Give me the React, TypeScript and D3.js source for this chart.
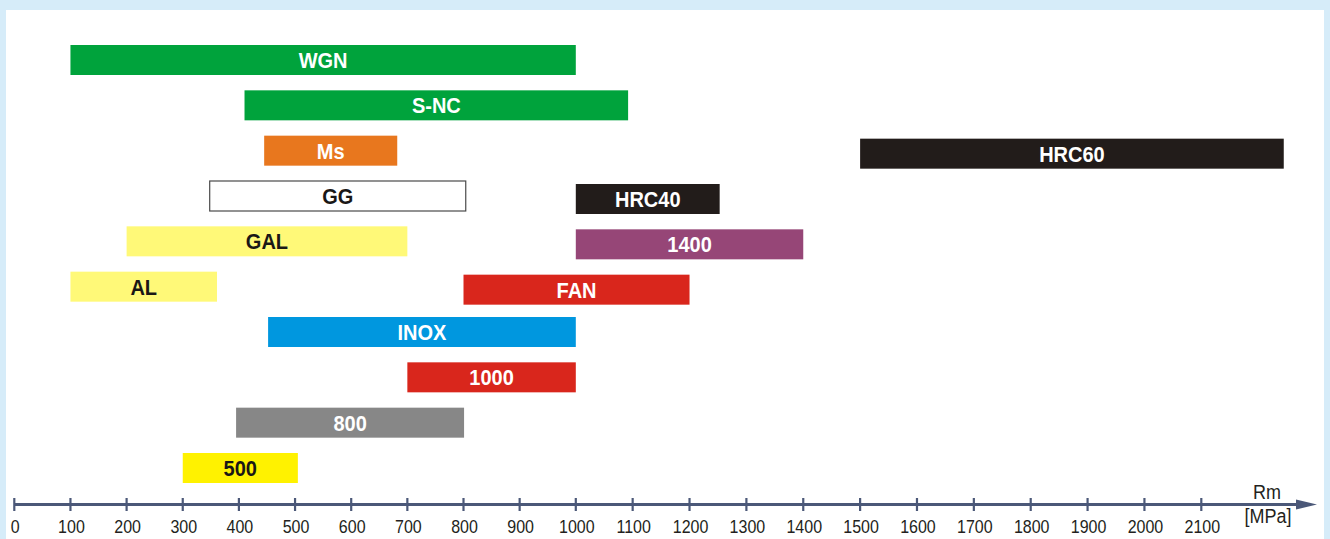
import * as d3 from 'd3';
import { useEffect, useRef } from 'react';

// Rm ranges [MPa] per material
const names = ['WGN', 'S-NC', 'Ms', 'GG', 'GAL', 'AL', 'INOX', '1000', '800', '500', 'HRC60', 'HRC40', '1400', 'FAN'];
const rmFrom = [100, 410, 445, 348, 200, 100, 452, 700, 395, 300, 1500, 1000, 1000, 800];
const rmTo = [1000, 1092, 682, 804, 700, 361, 1000, 1000, 801, 505, 2245, 1253, 1400, 1200];
const rows = [0, 1, 2, 3, 4, 5, 6, 7, 8, 9, 2, 3, 4, 5];
const ticks = d3.range(0, 2200, 100);

const fills: Record<string, string> = {
  WGN: '#00a33c', 'S-NC': '#00a33c', Ms: '#e8771e', GG: '#ffffff', GAL: '#fff978',
  AL: '#fff978', INOX: '#0097df', '1000': '#d9261c', '800': '#878787', '500': '#fff200',
  HRC60: '#221c1a', HRC40: '#221c1a', '1400': '#964677', FAN: '#d9261c',
};
const darkText = new Set(['GG', 'GAL', 'AL', '500']);

export default function App() {
  const ref = useRef<SVGSVGElement | null>(null);

  useEffect(() => {
    if (!ref.current) return;
    const svg = d3.select(ref.current);
    svg.selectAll('*').remove();

    const W = 1330;
    const H = 539;
    const axisY = 504.5;
    const font = 'Arial, "Liberation Sans", sans-serif';
    const stretch = 1.13; // the source text is a bit taller than plain Arial

    // frame
    svg.append('rect').attr('width', W).attr('height', H).attr('fill', '#d6ecf9');
    svg.append('rect').attr('x', 6).attr('y', 10).attr('width', W - 12).attr('height', H - 10).attr('fill', '#fff');

    // the printed axis is slightly wider on the right side
    const x = d3.scaleLinear().domain([0, 1000, 2100]).range([14.3, 575.8, 1201.3]);
    const y = d3.scaleLinear().domain([0, 9]).range([45, 453]);
    const barH = 30;

    const data = names.map((n, i) => ({ name: n, from: rmFrom[i], to: rmTo[i], row: rows[i], idx: i }));
    // second bar on a row sits a few px lower
    const rowOffset = (d: { row: number; idx: number }) =>
      rows.indexOf(d.row) < d.idx ? 3 : 0;

    const g = svg.append('g');
    g.selectAll('rect.bar')
      .data(data)
      .join('rect')
      .attr('class', 'bar')
      .attr('x', (d) => x(d.from))
      .attr('y', (d) => y(d.row) + rowOffset(d))
      .attr('width', (d) => x(d.to) - x(d.from))
      .attr('height', barH)
      .attr('fill', (d) => fills[d.name])
      .attr('stroke', (d) => (d.name === 'GG' ? '#4a4a4a' : 'none'))
      .attr('stroke-width', 1.2);

    g.selectAll('text.lbl')
      .data(data)
      .join('text')
      .attr('class', 'lbl')
      .attr('transform', (d) =>
        `translate(${(x(d.from) + x(d.to)) / 2},${y(d.row) + rowOffset(d) + barH / 2 + 8}) scale(1,${stretch})`)
      .attr('text-anchor', 'middle')
      .attr('font-family', font)
      .attr('font-weight', 'bold')
      .attr('font-size', 20)
      .attr('fill', (d) => (darkText.has(d.name) ? '#1a1716' : '#ffffff'))
      .text((d) => d.name);

    // axis
    const axisColor = '#4b5878';
    svg.append('line')
      .attr('x1', x(0)).attr('x2', 1302)
      .attr('y1', axisY).attr('y2', axisY)
      .attr('stroke', axisColor).attr('stroke-width', 3);
    svg.append('path')
      .attr('d', `M1296,${axisY - 5}L1317,${axisY}L1296,${axisY + 5}Z`)
      .attr('fill', axisColor);

    const tg = svg.append('g');
    tg.selectAll('line')
      .data(ticks)
      .join('line')
      .attr('x1', (d) => x(d)).attr('x2', (d) => x(d))
      .attr('y1', axisY - 6.5).attr('y2', axisY + 6.5)
      .attr('stroke', axisColor).attr('stroke-width', 2.2);
    tg.selectAll('text')
      .data(ticks)
      .join('text')
      .attr('transform', (d) => `translate(${x(d) + 1},533) scale(1,${stretch})`)
      .attr('text-anchor', 'middle')
      .attr('font-family', font)
      .attr('font-size', 16)
      .attr('fill', '#231f20')
      .text((d) => String(d));

    svg.append('text')
      .attr('transform', `translate(1267,499) scale(1,${stretch})`)
      .attr('text-anchor', 'middle')
      .attr('font-family', font).attr('font-size', 18).attr('fill', '#231f20')
      .text('Rm');
    svg.append('text')
      .attr('transform', `translate(1268,523) scale(1,${stretch})`)
      .attr('text-anchor', 'middle')
      .attr('font-family', font).attr('font-size', 18).attr('fill', '#231f20')
      .text('[MPa]');
  }, []);

  return (
    <svg
      ref={ref}
      width={1330}
      height={539}
      style={{ position: 'absolute', left: 0, top: 0, display: 'block' }}
    />
  );
}
